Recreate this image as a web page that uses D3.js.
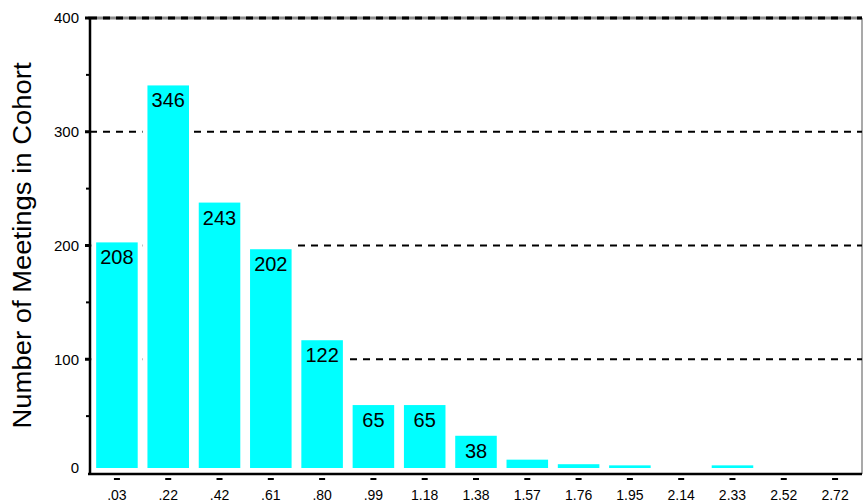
<!DOCTYPE html>
<html>
<head>
<meta charset="utf-8">
<script src="https://cdn.jsdelivr.net/npm/d3@7"></script>
<style>
  body { margin: 0; background: #fff; }
  svg { display: block; font-family: "Liberation Sans", Arial, Helvetica, sans-serif; }
</style>
</head>
<body>
<div id="chart"></div>
<script>
// Histogram of meetings per cohort
var categories = [".03", ".22", ".42", ".61", ".80", ".99", "1.18", "1.38", "1.57", "1.76", "1.95", "2.14", "2.33", "2.52", "2.72"];
var counts = [208, 346, 243, 202, 122, 65, 65, 38, 17, 13, 12, 9, 12, 0, 0];
var yTicks = [0, 100, 200, 300, 400];
var yMinorTicks = [50, 150, 250, 350];
var gridValues = [100, 200, 300, 400];

var width = 864,
    height = 504,
    plotLeft = 90, plotRight = 862, plotTop = 18, plotBottom = 473,
    barFloor = 468;

var svg = d3.select("#chart")
    .append("svg")
    .attr("width", width)
    .attr("height", height);

var x = d3.scaleBand()
    .domain(categories)
    .range([plotLeft, plotRight])
    .paddingInner(0.19)
    .paddingOuter(0.12);

var y = d3.scaleLinear().domain([0, 400]).range([plotBottom, plotTop]);
// bars are drawn a few pixels lower than the grid in the original
var yBar = d3.scaleLinear().domain([0, 400]).range([plotBottom + 6, plotTop + 6]);

var data = categories.map(function (c, i) { return { cat: c, value: counts[i] }; });

// frame (grey top and right edge)
svg.append("line")
    .attr("x1", plotLeft - 2).attr("x2", plotRight)
    .attr("y1", y(400)).attr("y2", y(400))
    .style("stroke", "#8c8c8c").style("stroke-width", 3);
svg.append("line")
    .attr("x1", plotRight).attr("x2", plotRight)
    .attr("y1", y(400)).attr("y2", plotBottom + 1)
    .style("stroke", "#8c8c8c").style("stroke-width", 1.5);

// dashed grid
svg.append("g").selectAll("line")
    .data(gridValues)
    .enter().append("line")
    .attr("x1", plotLeft).attr("x2", plotRight)
    .attr("y1", function (d) { return y(d); })
    .attr("y2", function (d) { return y(d); })
    .style("stroke", "#000")
    .style("stroke-width", function (d) { return d === 400 ? 3 : 2; })
    .style("stroke-dasharray", "7,6");

// white area around each bar hides the grid
var step = x.step(), gap = step - x.bandwidth();
svg.append("g").selectAll("rect")
    .data(data.filter(function (d) { return d.value > 0; }))
    .enter().append("rect")
    .attr("x", function (d) { return x(d.cat) - gap / 2; })
    .attr("width", step)
    .attr("y", function (d) { return yBar(d.value) - 8; })
    .attr("height", function (d) { return Math.max(0, plotBottom - yBar(d.value) + 8); })
    .style("fill", "#fff");

// bars
svg.append("g").selectAll("rect")
    .data(data)
    .enter().append("rect")
    .attr("x", function (d) { return x(d.cat); })
    .attr("width", x.bandwidth())
    .attr("y", function (d) { return Math.min(yBar(d.value), barFloor); })
    .attr("height", function (d) { return Math.max(0, barFloor - yBar(d.value)); })
    .style("fill", "#00ffff");

// value labels
svg.append("g").selectAll("text")
    .data(data.filter(function (d) { return d.value >= 20; }))
    .enter().append("text")
    .attr("x", function (d) { return x(d.cat) + x.bandwidth() / 2; })
    .attr("y", function (d) { return yBar(d.value) + 22; })
    .attr("text-anchor", "middle")
    .style("font-size", "20px")
    .style("fill", "#000")
    .text(function (d) { return d.value; });

// axes
svg.append("line")
    .attr("x1", plotLeft).attr("x2", plotLeft)
    .attr("y1", plotTop - 1).attr("y2", plotBottom + 2)
    .style("stroke", "#000").style("stroke-width", 2.5);
svg.append("line")
    .attr("x1", plotLeft - 2).attr("x2", plotRight)
    .attr("y1", plotBottom + 1).attr("y2", plotBottom + 1)
    .style("stroke", "#000").style("stroke-width", 2.5);

// y ticks
svg.append("g").selectAll("rect")
    .data(yTicks.filter(function (d) { return d > 0; }))
    .enter().append("rect")
    .attr("x", plotLeft - 5).attr("width", 5)
    .attr("y", function (d) { return y(d) - 1.5; })
    .attr("height", 3)
    .style("fill", "#000");
svg.append("g").selectAll("rect")
    .data(yMinorTicks)
    .enter().append("rect")
    .attr("x", plotLeft - 4).attr("width", 3)
    .attr("y", function (d) { return y(d) - 1; })
    .attr("height", 2)
    .style("fill", "#000");
svg.append("g").selectAll("text")
    .data(yTicks)
    .enter().append("text")
    .attr("x", plotLeft - 11)
    .attr("y", function (d) { return d === 0 ? y(d) - 5 : y(d); })
    .attr("dy", "0.35em")
    .attr("text-anchor", "end")
    .style("font-size", "15px")
    .text(function (d) { return d; });

// x ticks
svg.append("g").selectAll("rect")
    .data(categories)
    .enter().append("rect")
    .attr("x", function (d) { return x(d) + x.bandwidth() / 2 - 3; })
    .attr("y", plotBottom + 5)
    .attr("width", 6).attr("height", 2)
    .style("fill", "#000");
svg.append("g").selectAll("text")
    .data(categories)
    .enter().append("text")
    .attr("x", function (d) { return x(d) + x.bandwidth() / 2; })
    .attr("y", 500)
    .attr("text-anchor", "middle")
    .style("font-size", "14px")
    .text(function (d) { return d; });

// y title
svg.append("text")
    .attr("transform", "translate(31," + (plotTop + plotBottom) / 2 + ") rotate(-90)")
    .attr("text-anchor", "middle")
    .attr("textLength", 366)
    .attr("lengthAdjust", "spacingAndGlyphs")
    .style("font-size", "25px")
    .text("Number of Meetings in Cohort");
</script>
</body>
</html>
